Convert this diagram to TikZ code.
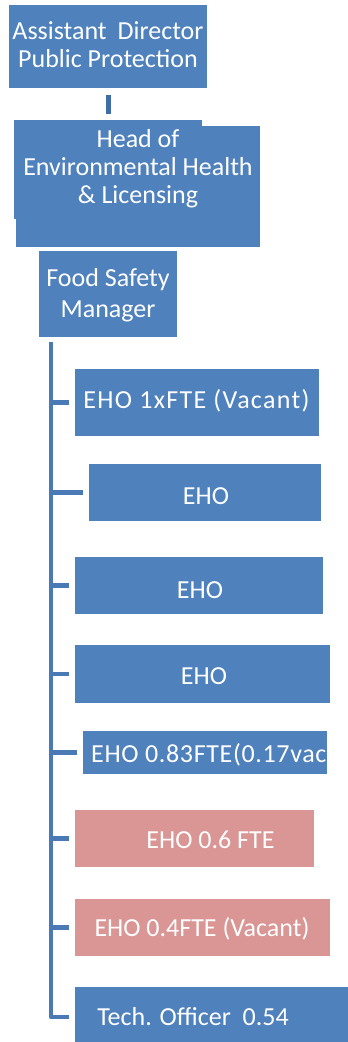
\documentclass[tikz,border=0pt]{standalone}
\usepackage{fontspec}
\setmainfont{Carlito}
\usetikzlibrary{calc}
\definecolor{boxblue}{HTML}{4F81BD}
\definecolor{boxpink}{HTML}{D99694}
\definecolor{linkblue}{HTML}{4A7AB5}
\definecolor{stubblue}{HTML}{3F6DA5}
\begin{document}
\begin{tikzpicture}[x=1pt,y=-1pt,
  box/.style={fill=boxblue, draw=none, inner sep=0pt, outer sep=0pt, anchor=north west},
  pinkbox/.style={box, fill=boxpink},
  lbl/.style={text=white, font=\fontsize{26}{28}\selectfont, inner sep=0pt, anchor=base},
  mlbl/.style={lbl, anchor=center, align=center,
    execute at begin node={\rule{0pt}{19pt}},
    execute at end node={\rule[-7pt]{0pt}{7pt}}},
  conn/.style={draw=linkblue, line width=4.3pt},
  stub/.style={draw=stubblue, line width=5pt},
]
\useasboundingbox (0,0) rectangle (348,1042);

% top boxes
\node[box, minimum width=198pt, minimum height=83pt] (ad) at (9,5) {};
\node[mlbl] (adt) at (108,48) {Assistant\hspace{11pt}Director\\Public Protection};

\fill[boxblue] (14,120) rectangle (202,219);
\node[box, minimum width=244pt, minimum height=121pt] (hd) at (16,126) {};
\node[mlbl] (hdt) at (138,170) {Head of\\Environmental Health\\\& Licensing};

\node[box, minimum width=138pt, minimum height=86pt] (fsm) at (39,251) {};
\node[mlbl] (fsmt) at (108,296.5) {Food Safety\\[3pt]Manager};

% staff boxes
\node[box, minimum width=244pt, minimum height=67pt] (e1) at (75,369) {};
\node[box, minimum width=232pt, minimum height=57pt] (e2) at (89,464) {};
\node[box, minimum width=248pt, minimum height=57pt] (e3) at (75,557) {};
\node[box, minimum width=255pt, minimum height=58pt] (e4) at (75,645) {};
\node[box, minimum width=244pt, minimum height=43pt] (e5) at (83,731) {};
\node[pinkbox, minimum width=239pt, minimum height=57pt] (e6) at (75,810) {};
\node[pinkbox, minimum width=255pt, minimum height=57pt] (e7) at (75,899) {};
\node[box, minimum width=273pt, minimum height=60pt] (e8) at (75,987) {};

\node[lbl, font=\fontsize{26}{28}\selectfont\addfontfeature{LetterSpace=5}] (t1) at (196.5,408) {EHO 1xFTE (Vacant)};
\node[lbl] (t2) at (206,504) {EHO};
\node[lbl] (t3) at (200,598) {EHO};
\node[lbl] (t4) at (204,684) {EHO};
\begin{scope}
  \clip (e5.south west) rectangle (e5.north east);
  \node[lbl, anchor=base west, font=\fontsize{26}{28}\selectfont\addfontfeature{LetterSpace=2.5}] (t5) at (91,762) {EHO 0.83FTE(0.17vac)};
\end{scope}
\node[lbl] (t6) at (210.5,848) {EHO 0.6 FTE};
\node[lbl] (t7) at (202,936) {EHO 0.4FTE (Vacant)};
\node[lbl] (t8) at (193,1025) {Tech. Officer\ \ 0.54};

% connectors
\draw[stub] ($(ad.south)+(0,7)$) -- ($(ad.south |- hd.north)+(0,-12)$);
\coordinate (trunk) at (51,342);
\foreach \b in {e1,e2,e3,e4,e5,e6,e7}
  \draw[conn] ([xshift=-6pt]\b.west) -- (\b.west -| trunk);
\draw[conn, line join=round] (trunk) |- ([xshift=-6pt]e8.west);
\end{tikzpicture}
\end{document}
